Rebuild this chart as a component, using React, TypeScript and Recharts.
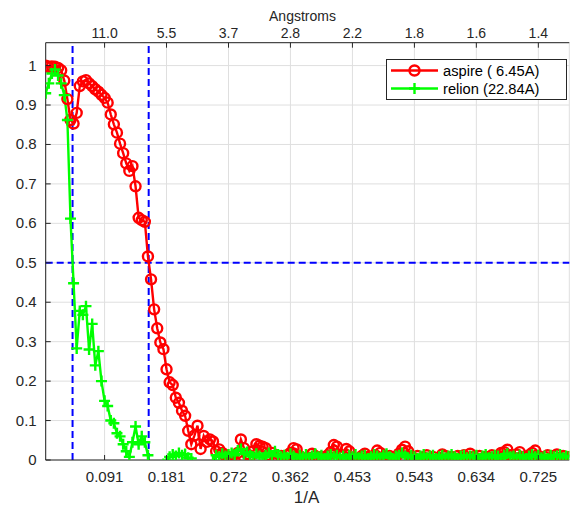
import React from 'react';
import { LineChart, Line, XAxis, YAxis, CartesianGrid, ReferenceLine, Legend } from 'recharts';

// ---- data ----
const SHELL_STEP = 0.004528; // spatial frequency step between FSC shells (1/A)

const aspire: number[] = [
  1.0, 0.997, 0.998, 0.997, 0.994, 0.988, 0.962, 0.915, 0.862, 0.853,
  0.88, 0.948, 0.96, 0.963, 0.955, 0.948, 0.94, 0.934, 0.926, 0.918,
  0.906, 0.876, 0.851, 0.83, 0.802, 0.778, 0.752, 0.733, 0.745, 0.694,
  0.614, 0.608, 0.604, 0.516, 0.458, 0.382, 0.334, 0.298, 0.281, 0.23,
  0.197, 0.19, 0.158, 0.145, 0.125, 0.112, 0.074, 0.04, 0.062, 0.087,
  0.028, 0.061, 0.046, 0.052, 0.047, 0.022, 0.027, 0.018, 0.012, 0.008,
  0.004, -0.002, 0.018, 0.052, 0.03, 0.015, 0.01, 0.022, 0.04, 0.036,
  0.034, 0.03, 0.012, 0.018, 0.006, 0.002, 0.01, 0.004, 0.012, 0.018,
  0.03, 0.027, 0.01, 0.004, -0.004, 0.006, 0.016, 0.01, 0.002, 0.008,
  0.005, 0.012, 0.02, 0.038, 0.034, 0.014, 0.01, 0.028, 0.022, 0.006,
  -0.006, 0.004, 0.01, 0.016, 0.008, 0.002, 0.012, 0.024, 0.018, 0.006,
  0.004, 0.01, 0.002, 0.008, 0.016, 0.026, 0.034, 0.022, 0.008, 0.004,
  0.01, -0.003, 0.006, 0.012, 0.004, 0.008, -0.002, 0.006, 0.014, 0.01,
  0.004, 0.008, 0.002, 0.01, 0.006, 0.012, 0.004, 0.016, 0.008, 0.004,
  0.01, 0.002, 0.008, 0.006, 0.012, 0.004, 0.01, 0.018, 0.02, 0.026,
  0.012, 0.006, 0.014, 0.02, 0.008, 0.004, 0.012, 0.018, 0.024, 0.01,
  0.004, 0.008, 0.012, 0.004, 0.01, 0.014, 0.006, 0.01, 0.004, 0.008,
];

const relion: number[] = [
  0.93, 0.955, 0.98, 0.99, 0.975, 0.955, 0.925, 0.862, 0.612, 0.448,
  0.283, 0.378, 0.368, 0.39, 0.28, 0.345, 0.24, 0.276, 0.2, 0.15,
  0.137, 0.1, 0.093, 0.068, 0.06, 0.04, 0.022, 0.008, 0.045, 0.085,
  0.04, 0.06, 0.045, 0.012, -0.03, -0.05, -0.04, -0.03, -0.01, -0.004,
  0.008, 0.014, 0.01, 0.018, 0.012, 0.015, 0.006, 0.004, -0.02, -0.04,
  -0.03, -0.02, -0.03, -0.015, -0.004, 0.012, 0.008, 0.016, 0.01, 0.014,
  0.018, 0.012, 0.024, 0.028, 0.015, 0.02, 0.012, 0.008, 0.016, 0.01,
  0.006, 0.012, 0.018, 0.01, 0.022, 0.014, 0.008, 0.012, 0.006, 0.016,
  0.01, 0.004, 0.012, 0.008, 0.014, 0.006, 0.01, 0.016, 0.008, 0.012,
  0.004, 0.01, 0.014, 0.008, 0.012, 0.006, 0.01, 0.004, 0.012, 0.008,
  0.014, 0.006, 0.01, 0.012, 0.004, 0.008, 0.014, 0.01, 0.006, 0.012,
  0.016, 0.008, 0.004, 0.01, 0.012, 0.018, 0.01, 0.006, 0.012, 0.008,
  0.004, 0.01, 0.014, 0.006, 0.01, 0.012, 0.004, 0.008, 0.012, 0.006,
  0.01, 0.014, 0.008, 0.004, 0.01, 0.012, 0.006, 0.01, 0.008, 0.012,
  0.004, 0.01, 0.014, 0.006, 0.008, 0.012, 0.01, 0.004, 0.012, 0.016,
  0.008, 0.01, 0.006, 0.012, 0.008, 0.004, 0.01, 0.014, 0.008, 0.012,
  0.006, 0.01, 0.004, 0.012, 0.008, 0.01, 0.014, 0.006, 0.01, 0.008,
];

const RES_ASPIRE = 6.45;
const RES_RELION = 22.84;
const FSC_THRESHOLD = 0.5;

const xTicks = [0.0906, 0.1811, 0.2717, 0.3622, 0.4528, 0.5434, 0.6339, 0.7245];
const xTickLabels = ['0.091', '0.181', '0.272', '0.362', '0.453', '0.543', '0.634', '0.725'];
const angstromLabels = ['11.0', '5.5', '3.7', '2.8', '2.2', '1.8', '1.6', '1.4'];
const yTicks = [0, 0.1, 0.2, 0.3, 0.4, 0.5, 0.6, 0.7, 0.8, 0.9, 1];
const yTickLabels = ['0', '0.1', '0.2', '0.3', '0.4', '0.5', '0.6', '0.7', '0.8', '0.9', '1'];

const legendLabels = ['aspire ( 6.45A)', 'relion (22.84A)'];

// ---- styling ----
const FONT = '"Liberation Sans", Arial, Helvetica, sans-serif';
const AXIS = '#262626';
const GRID = '#dfdfdf';
const RED = '#ff0000';
const GREEN = '#00ff00';
const BLUE = '#0000ff';
const LW = 2.4;
const CIRCLE_R = 5;
const PLUS_H = 5.5;

const data = aspire.map((a, i) => ({ f: (i + 1) * SHELL_STEP, aspire: a, relion: relion[i] }));
const X_DOMAIN: [number, number] = [SHELL_STEP, aspire.length * SHELL_STEP];

const labelFor = (ticks: number[], labels: string[], v: number) => {
  let best = 0;
  for (let i = 0; i < ticks.length; i++) {
    if (Math.abs(ticks[i] - v) < Math.abs(ticks[best] - v)) best = i;
  }
  return labels[best];
};

const BottomTick = (p: any) => (
  <g>
    <line x1={p.x} x2={p.x} y1={p.y} y2={p.y - 5} stroke={AXIS} strokeWidth={1} />
    <text x={p.x} y={p.y + 22} textAnchor="middle" fontSize={15} fill={AXIS} fontFamily={FONT}>
      {labelFor(xTicks, xTickLabels, p.payload.value)}
    </text>
  </g>
);

const TopTick = (p: any) => (
  <g>
    <line x1={p.x} x2={p.x} y1={p.y} y2={p.y + 5} stroke={AXIS} strokeWidth={1} />
    <text x={p.x} y={p.y - 5} textAnchor="middle" fontSize={14} fill={AXIS} fontFamily={FONT}>
      {labelFor(xTicks, angstromLabels, p.payload.value)}
    </text>
  </g>
);

const LeftTick = (p: any) => (
  <g>
    <line x1={p.x} x2={p.x + 5} y1={p.y} y2={p.y} stroke={AXIS} strokeWidth={1} />
    <text x={p.x - 9} y={p.y + 5} textAnchor="end" fontSize={15} fill={AXIS} fontFamily={FONT}>
      {labelFor(yTicks, yTickLabels, p.payload.value)}
    </text>
  </g>
);

const CircleDot = (p: any) =>
  p.cx == null || p.cy == null ? null : (
    <circle key={`c-${p.index}`} cx={p.cx} cy={p.cy} r={CIRCLE_R} fill="none" stroke={RED} strokeWidth={LW} />
  );

const PlusDot = (p: any) =>
  p.cx == null || p.cy == null ? null : (
    <path
      key={`p-${p.index}`}
      d={`M${p.cx - PLUS_H},${p.cy}H${p.cx + PLUS_H}M${p.cx},${p.cy - PLUS_H}V${p.cy + PLUS_H}`}
      stroke={GREEN}
      strokeWidth={LW}
      fill="none"
    />
  );

const LegendBox = () => (
  <svg width={181} height={41} style={{ display: 'block' }}>
    <rect x={0.5} y={0.5} width={180} height={40} fill="#fff" stroke={AXIS} strokeWidth={1} />
    <line x1={5} x2={52} y1={11.5} y2={11.5} stroke={RED} strokeWidth={LW} />
    <circle cx={28.5} cy={11.5} r={CIRCLE_R} fill="none" stroke={RED} strokeWidth={LW} />
    <text x={57} y={16.5} fontSize={14.7} fill="#000" fontFamily={FONT}>{legendLabels[0]}</text>
    <line x1={5} x2={52} y1={29.5} y2={29.5} stroke={GREEN} strokeWidth={LW} />
    <path d={`M${28.5 - PLUS_H},29.5H${28.5 + PLUS_H}M28.5,${29.5 - PLUS_H}V${29.5 + PLUS_H}`} stroke={GREEN} strokeWidth={LW} />
    <text x={57} y={34.5} fontSize={14.7} fill="#000" fontFamily={FONT}>{legendLabels[1]}</text>
  </svg>
);

export default function App() {
  return (
    <div style={{ position: 'absolute', left: 0, top: 0, width: 571, height: 508, background: '#fff' }}>
      <LineChart width={571} height={508} data={data} margin={{ top: 0, right: 1.7, bottom: 0, left: 0 }}>
        <CartesianGrid stroke={GRID} strokeWidth={1} />
        <XAxis
          dataKey="f"
          type="number"
          domain={X_DOMAIN}
          ticks={xTicks}
          interval={0}
          allowDataOverflow
          height={48}
          tickSize={0}
          tickMargin={0}
          tickLine={false}
          tick={BottomTick}
          axisLine={{ stroke: AXIS, strokeWidth: 1 }}
          label={{
            content: (lp: any) => (
              <text
                x={lp.viewBox.x + lp.viewBox.width / 2 - 1}
                y={503}
                textAnchor="middle"
                fontSize={17}
                fill={AXIS}
                fontFamily={FONT}
              >
                1/A
              </text>
            ),
          }}
        />
        <XAxis
          xAxisId="top"
          orientation="top"
          dataKey="f"
          type="number"
          domain={X_DOMAIN}
          ticks={xTicks}
          interval={0}
          allowDataOverflow
          height={42.7}
          tickSize={0}
          tickMargin={0}
          tickLine={false}
          tick={TopTick}
          axisLine={{ stroke: AXIS, strokeWidth: 1 }}
          label={{
            content: (lp: any) => (
              <text
                x={lp.viewBox.x + lp.viewBox.width / 2 - 5}
                y={20.5}
                textAnchor="middle"
                fontSize={14}
                fill={AXIS}
                fontFamily={FONT}
              >
                Angstroms
              </text>
            ),
          }}
        />
        <YAxis
          type="number"
          domain={[0, 1.058]}
          ticks={yTicks}
          interval={0}
          allowDataOverflow
          width={45.7}
          tickSize={0}
          tickMargin={0}
          tickLine={false}
          tick={LeftTick}
          axisLine={{ stroke: AXIS, strokeWidth: 1 }}
        />
        <ReferenceLine x={1 / RES_RELION} stroke={BLUE} strokeWidth={2} strokeDasharray="7 4" />
        <ReferenceLine x={1 / RES_ASPIRE} stroke={BLUE} strokeWidth={2} strokeDasharray="7 4" />
        <ReferenceLine y={FSC_THRESHOLD} stroke={BLUE} strokeWidth={2} strokeDasharray="7 4" />
        <Line
          type="linear"
          dataKey="aspire"
          name={legendLabels[0]}
          stroke={RED}
          strokeWidth={LW}
          dot={CircleDot}
          activeDot={false}
          isAnimationActive={false}
        />
        <Line
          type="linear"
          dataKey="relion"
          name={legendLabels[1]}
          stroke={GREEN}
          strokeWidth={LW}
          dot={PlusDot}
          activeDot={false}
          isAnimationActive={false}
        />
        <Legend
          layout="horizontal"
          verticalAlign="middle"
          align="center"
          content={() => <LegendBox />}
          wrapperStyle={{ left: 386, top: 59, width: 181, height: 41 }}
        />
      </LineChart>
    </div>
  );
}
